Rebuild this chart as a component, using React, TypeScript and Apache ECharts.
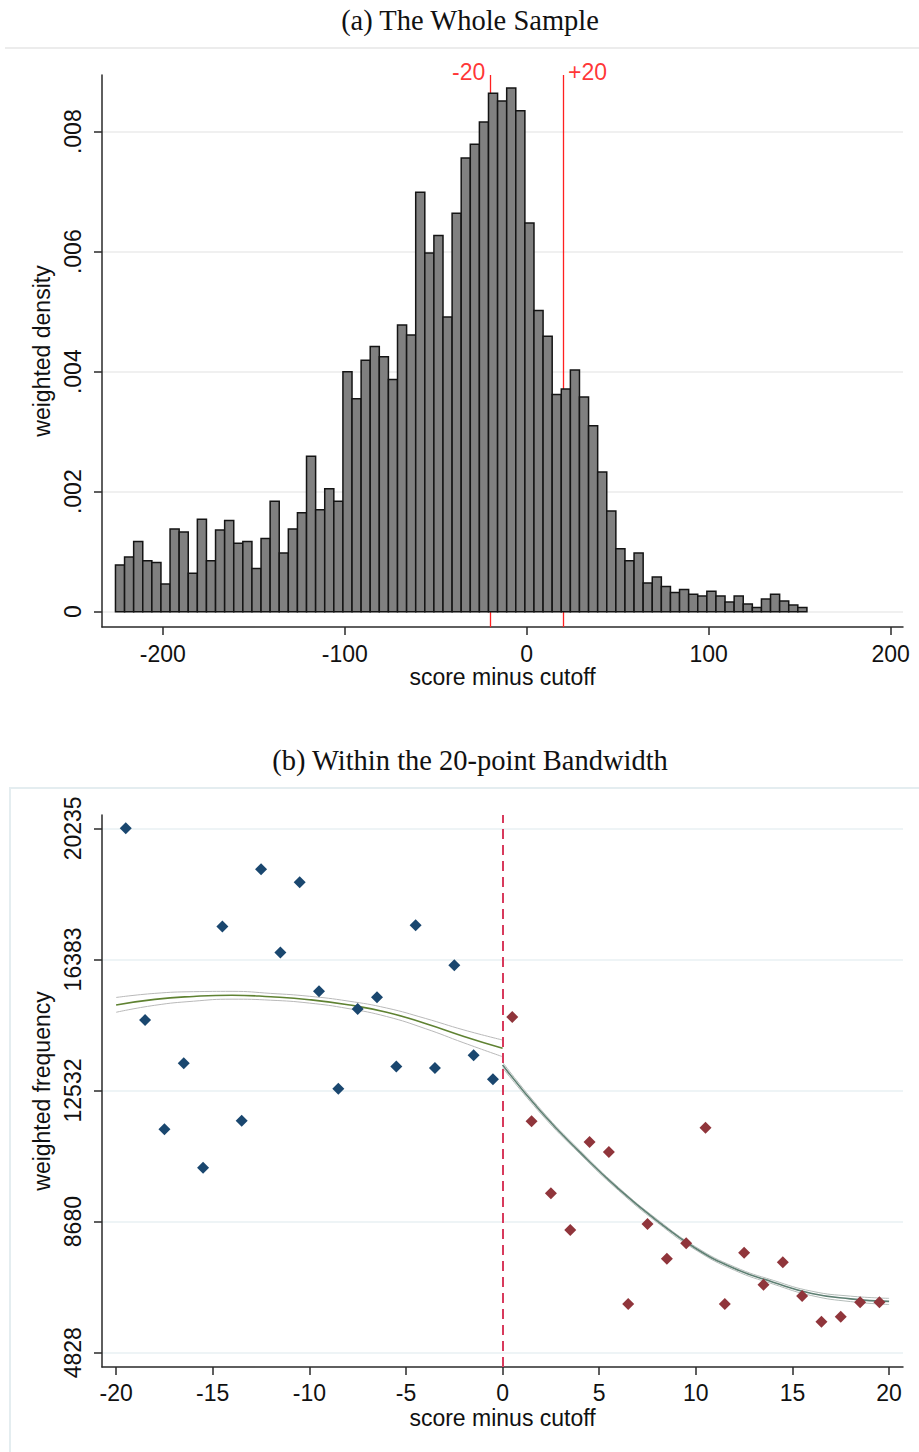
import React, { useEffect, useRef } from 'react';
import * as echarts from 'echarts';

// ---------- Panel (a): histogram of score minus cutoff ----------
const binStart = -226;
const binWidth = 5;
const densities = [
  0.00078, 0.00091, 0.00117, 0.00085, 0.00082, 0.00046, 0.00138, 0.00133, 0.00064, 0.00154,
  0.00085, 0.00136, 0.00152, 0.00114, 0.00117, 0.00072, 0.00122, 0.00184, 0.00098, 0.00138,
  0.00165, 0.00259, 0.0017, 0.00205, 0.00184,
  0.004, 0.00355, 0.00419, 0.00442, 0.00425, 0.00387, 0.00478, 0.00461, 0.00699, 0.00598,
  0.00627, 0.00491, 0.00664, 0.00756, 0.00779, 0.00816, 0.00864, 0.00851, 0.00873, 0.00835,
  0.00648, 0.00502, 0.00459, 0.00362, 0.00371, 0.00403, 0.00358, 0.0031, 0.00233, 0.00168,
  0.00105,
  0.00085, 0.00098, 0.00048, 0.00058, 0.00042, 0.00032, 0.00037, 0.00029, 0.00026, 0.00034,
  0.00026, 0.00016, 0.00026, 0.00013, 0.00007, 0.00021, 0.00029, 0.00018, 0.00011, 0.00007,
];
const densityTicks = [0, 0.002, 0.004, 0.006, 0.008];
const scoreTicksA = [-200, -100, 0, 100, 200];
const bandMarks = [-20, 20];
const bandLabels = ['-20', '+20'];

// ---------- Panel (b): within the 20-point bandwidth ----------
const leftBins = [-19.5, -18.5, -17.5, -16.5, -15.5, -14.5, -13.5, -12.5, -11.5, -10.5,
  -9.5, -8.5, -7.5, -6.5, -5.5, -4.5, -3.5, -2.5, -1.5, -0.5];
const leftFreq = [20235, 14600, 11395, 13330, 10265, 17350, 11640, 19030, 16585, 18650,
  15450, 12585, 14925, 15270, 13240, 17385, 13190, 16210, 13565, 12865];
const rightBins = [0.5, 1.5, 2.5, 3.5, 4.5, 5.5, 6.5, 7.5, 8.5, 9.5,
  10.5, 11.5, 12.5, 13.5, 14.5, 15.5, 16.5, 17.5, 18.5, 19.5];
const rightFreq = [14690, 11627, 9511, 8433, 11018, 10725, 6259, 8609, 7590, 8042,
  11439, 6259, 7766, 6826, 7484, 6497, 5739, 5886, 6312, 6312];

const leftFitX = [-20, -18, -16, -14, -12, -10, -8, -6, -4, -2, 0];
const leftFit = [15045, 15210, 15295, 15330, 15285, 15200, 15050, 14830, 14500, 14120, 13770];
const leftHi = [15265, 15385, 15435, 15445, 15385, 15300, 15160, 14955, 14650, 14310, 14015];
const leftLo = [14830, 15035, 15155, 15215, 15185, 15100, 14940, 14705, 14350, 13930, 13525];

const rightFitX = [0, 2, 4, 6, 8, 10, 12, 14, 16, 18, 20];
const rightFit = [13280, 11900, 10720, 9640, 8700, 7890, 7300, 6900, 6570, 6410, 6335];
const rightHi = [13360, 11960, 10770, 9685, 8745, 7935, 7350, 6955, 6635, 6490, 6425];
const rightLo = [13200, 11840, 10670, 9595, 8655, 7845, 7250, 6845, 6505, 6330, 6245];

const freqTicks = [4828, 8679.75, 12531.5, 16383.25, 20235];
const scoreTicksB = [-20, -15, -10, -5, 0, 5, 10, 15, 20];
const cutoff = 0;

const SANS = 'Liberation Sans, Arial, sans-serif';
const SERIF = 'Liberation Serif, Times New Roman, serif';
const FS = 23;
const INK = '#111111';
const AXIS = '#2a2a2a';

function pairs(xs: number[], ys: number[]) {
  return xs.map((x, i) => [x, ys[i]]);
}

function buildOption() {
  const A_XMIN = -233.4, A_XMAX = 206.8, A_YMIN = -0.000255, A_YMAX = 0.008945;
  const B_XMIN = -20.73, B_XMAX = 20.72, B_YMIN = 4408, B_YMAX = 20626;

  const histData = densities.map((h, k) => [binStart + k * binWidth, binStart + (k + 1) * binWidth, h]);

  const axisLine = { show: true, onZero: false, lineStyle: { color: AXIS, width: 1.5 } };
  const tickStyle = { color: AXIS, width: 1.5 };
  const labelStyle = { fontSize: FS, color: INK, fontFamily: SANS };

  const fmtDensity = (v: number) => (v === 0 ? '0' : '.' + String(Math.round(v * 1000)).padStart(3, '0'));

  return {
    animation: false,
    backgroundColor: '#ffffff',
    textStyle: { fontFamily: SANS },
    grid: [
      { left: 102, top: 75, width: 801, height: 552 },
      { left: 102, top: 815, width: 801, height: 552 },
    ],
    xAxis: [
      {
        gridIndex: 0, type: 'value', min: A_XMIN, max: A_XMAX,
        axisLine,
        axisTick: { show: true, length: 8, customValues: scoreTicksA, lineStyle: tickStyle },
        axisLabel: { ...labelStyle, customValues: scoreTicksA, margin: 15 },
        splitLine: { show: false },
        name: 'score minus cutoff', nameLocation: 'middle', nameGap: 38,
        nameTextStyle: { ...labelStyle },
      },
      {
        gridIndex: 1, type: 'value', min: B_XMIN, max: B_XMAX,
        axisLine,
        axisTick: { show: true, length: 8, customValues: scoreTicksB, lineStyle: tickStyle },
        axisLabel: { ...labelStyle, customValues: scoreTicksB, margin: 14 },
        splitLine: { show: false },
        name: 'score minus cutoff', nameLocation: 'middle', nameGap: 39,
        nameTextStyle: { ...labelStyle },
      },
    ],
    yAxis: [
      {
        gridIndex: 0, type: 'value', min: A_YMIN, max: A_YMAX,
        axisLine,
        axisTick: { show: true, length: 8, customValues: densityTicks, lineStyle: tickStyle },
        axisLabel: { ...labelStyle, customValues: densityTicks, rotate: 90, margin: 18, formatter: fmtDensity },
        splitLine: { show: true, lineStyle: { color: '#ebebeb', width: 1.5 } },
        name: 'weighted density', nameLocation: 'middle', nameGap: 42,
        nameTextStyle: { ...labelStyle },
      },
      {
        gridIndex: 1, type: 'value', min: B_YMIN, max: B_YMAX,
        axisLine,
        axisTick: { show: true, length: 8, customValues: freqTicks, lineStyle: tickStyle },
        axisLabel: { ...labelStyle, customValues: freqTicks, rotate: 90, margin: 18, formatter: (v: number) => String(Math.round(v)) },
        splitLine: { show: true, lineStyle: { color: '#e9f1f3', width: 1.5 } },
        name: 'weighted frequency', nameLocation: 'middle', nameGap: 42,
        nameTextStyle: { ...labelStyle },
      },
    ],
    graphic: [
      {
        type: 'text', x: 470, y: 20,
        style: { text: '(a) The Whole Sample', fontSize: 28.5, fontFamily: SERIF, fill: INK, textAlign: 'center', textVerticalAlign: 'middle', align: 'center', verticalAlign: 'middle' },
      },
      {
        type: 'text', x: 470, y: 760,
        style: { text: '(b) Within the 20-point Bandwidth', fontSize: 28.5, fontFamily: SERIF, fill: INK, textAlign: 'center', textVerticalAlign: 'middle', align: 'center', verticalAlign: 'middle' },
      },
      { type: 'line', shape: { x1: 5, y1: 48, x2: 919, y2: 48 }, style: { stroke: '#ececec', lineWidth: 2 } },
      { type: 'rect', shape: { x: 10, y: 788, width: 1000, height: 1000 }, style: { fill: 'none', stroke: '#e4edf0', lineWidth: 2 } },
    ],
    series: [
      {
        type: 'scatter', xAxisIndex: 0, yAxisIndex: 0, clip: false,
        symbolSize: 0,
        data: bandMarks.map((x, i) => ({
          value: [x, A_YMAX],
          label: {
            show: true, formatter: bandLabels[i], position: i === 0 ? 'left' : 'right', distance: 5,
            offset: [0, -3], color: '#ff0000', fontSize: FS, fontFamily: SANS,
          },
        })),
        markLine: {
          silent: true, symbol: 'none', label: { show: false },
          lineStyle: { color: '#ff2020', width: 1.3, type: 'solid' },
          data: bandMarks.map((x) => ({ xAxis: x })),
        },
        z: 1,
      },
      {
        type: 'custom', xAxisIndex: 0, yAxisIndex: 0,
        data: histData,
        encode: { x: [0, 1], y: 2 },
        renderItem: (_params: any, api: any) => {
          const p0 = api.coord([api.value(0), api.value(2)]);
          const p1 = api.coord([api.value(1), 0]);
          return {
            type: 'rect',
            shape: { x: p0[0], y: p0[1], width: p1[0] - p0[0], height: p1[1] - p0[1] },
            style: { fill: '#808080', stroke: '#141414', lineWidth: 1.5 },
          };
        },
        z: 5,
      },
      // Panel (b)
      {
        type: 'line', xAxisIndex: 1, yAxisIndex: 1, data: pairs(leftFitX, leftHi), smooth: true,
        symbol: 'none', lineStyle: { color: '#b9b9b9', width: 1 }, z: 2,
      },
      {
        type: 'line', xAxisIndex: 1, yAxisIndex: 1, data: pairs(leftFitX, leftLo), smooth: true,
        symbol: 'none', lineStyle: { color: '#b9b9b9', width: 1 }, z: 2,
      },
      {
        type: 'line', xAxisIndex: 1, yAxisIndex: 1, data: pairs(leftFitX, leftFit), smooth: true,
        symbol: 'none', lineStyle: { color: '#5f8232', width: 1.6 }, z: 3,
      },
      {
        type: 'line', xAxisIndex: 1, yAxisIndex: 1, data: pairs(rightFitX, rightHi), smooth: true,
        symbol: 'none', lineStyle: { color: '#b4bcb9', width: 1 }, z: 2,
      },
      {
        type: 'line', xAxisIndex: 1, yAxisIndex: 1, data: pairs(rightFitX, rightLo), smooth: true,
        symbol: 'none', lineStyle: { color: '#b4bcb9', width: 1 }, z: 2,
      },
      {
        type: 'line', xAxisIndex: 1, yAxisIndex: 1, data: pairs(rightFitX, rightFit), smooth: true,
        symbol: 'none', lineStyle: { color: '#5d7f72', width: 1.6 }, z: 3,
        markLine: {
          silent: true, symbol: 'none', label: { show: false },
          lineStyle: { color: '#d83a5c', width: 2, type: [10, 6] },
          data: [{ xAxis: cutoff }],
        },
      },
      {
        type: 'scatter', xAxisIndex: 1, yAxisIndex: 1, data: pairs(leftBins, leftFreq),
        symbol: 'diamond', symbolSize: 12, itemStyle: { color: '#1a476f', opacity: 1 }, z: 4,
      },
      {
        type: 'scatter', xAxisIndex: 1, yAxisIndex: 1, data: pairs(rightBins, rightFreq),
        symbol: 'diamond', symbolSize: 12, itemStyle: { color: '#90353b', opacity: 1 }, z: 4,
      },
    ],
  };
}

export default function App() {
  const ref = useRef<HTMLDivElement>(null);
  useEffect(() => {
    document.body.style.margin = '0';
    const chart = echarts.init(ref.current as HTMLDivElement, null, { renderer: 'svg' });
    chart.setOption(buildOption() as any);
    return () => chart.dispose();
  }, []);
  return <div ref={ref} style={{ width: 919, height: 1452 }} />;
}
